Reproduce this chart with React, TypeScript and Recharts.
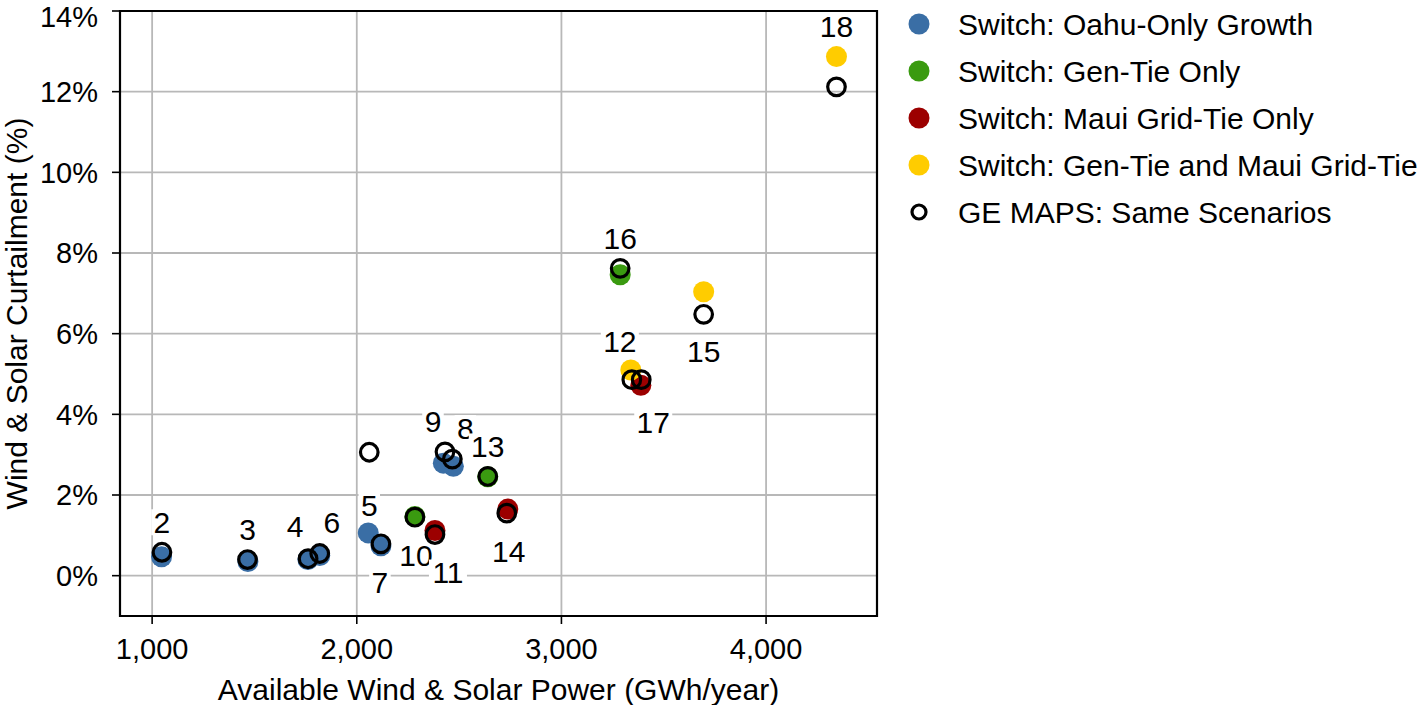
import { ScatterChart, Scatter, XAxis, YAxis, CartesianGrid, ReferenceArea } from 'recharts';

// scenario numbers, available wind & solar (GWh/yr), curtailment (%)
const oahuIds = [2, 3, 4, 5, 6, 7, 8, 9];
const oahuX = [1046, 1468, 1761, 2056, 1819, 2118, 2472, 2423];
const oahuY = [0.47, 0.35, 0.4, 1.06, 0.5, 0.74, 2.71, 2.79];

const genTieIds = [10, 13, 16];
const genTieX = [2284, 2640, 3287];
const genTieY = [1.47, 2.45, 7.46];

const mauiIds = [11, 14, 17];
const mauiX = [2382, 2738, 3388];
const mauiY = [1.12, 1.65, 4.72];

const bothIds = [12, 15, 18];
const bothX = [3339, 3695, 4344];
const bothY = [5.1, 7.04, 12.87];

const geIds = [2, 3, 4, 5, 6, 7, 8, 9, 10, 11, 12, 13, 14, 15, 16, 17, 18];
const geX = [1048, 1466, 1762, 2061, 1819, 2118, 2467, 2431, 2284, 2382, 3344, 2640, 2733, 3695, 3287, 3390, 4344];
const geY = [0.58, 0.4, 0.42, 3.06, 0.55, 0.79, 2.89, 3.07, 1.45, 1.02, 4.86, 2.46, 1.55, 6.48, 7.62, 4.86, 12.12];

const xTicks = [1000, 2000, 3000, 4000];
const yTicks = [0, 2, 4, 6, 8, 10, 12, 14];

const seriesNames = [
  'Switch: Oahu-Only Growth',
  'Switch: Gen-Tie Only',
  'Switch: Maui Grid-Tie Only',
  'Switch: Gen-Tie and Maui Grid-Tie',
  'GE MAPS: Same Scenarios',
];

// label placement relative to the GE MAPS marker, in pixels
const labelOffsets: Record<number, [number, number]> = {
  2: [0, -30], 3: [0, -30], 4: [-13, -32], 5: [0, 53], 6: [12, -31], 7: [-1, 39],
  8: [13, -31], 9: [-12, -30], 10: [1, 38], 11: [13, 38], 12: [-12, -38], 13: [0, -30],
  14: [2, 38], 15: [0, 37], 16: [0, -30], 17: [12, 43], 18: [0, -60],
};

const zip = (ids: number[], xs: number[], ys: number[]) =>
  ids.map((id, i) => ({ id, x: xs[i], y: ys[i] }));

const oahu = zip(oahuIds, oahuX, oahuY);
const genTie = zip(genTieIds, genTieX, genTieY);
const maui = zip(mauiIds, mauiX, mauiY);
const both = zip(bothIds, bothX, bothY);
const ge = zip(geIds, geX, geY);

const COLORS = ['#3a6ea5', '#3a9a10', '#9c0000', '#ffcc00'];
const FONT = '"Liberation Sans", Arial, Helvetica, sans-serif';

const dot = (color: string) => (p: any) => <circle cx={p.cx} cy={p.cy} r={10.5} fill={color} />;
const ring = (p: any) => <circle cx={p.cx} cy={p.cy} r={8.8} fill="none" stroke="#000" strokeWidth={3.2} />;

function ScenarioLabel(p: any) {
  const id = p.payload.id as number;
  const [dx, dy] = labelOffsets[id] || [0, -30];
  const txt = String(id);
  const w = txt.length * 16.5 + 5;
  const x = p.cx + dx;
  const y = p.cy + dy;
  return (
    <g>
      <rect x={x - w / 2} y={y - 13} width={w} height={26} fill="#fff" />
      <text x={x} y={y + 10.5} textAnchor="middle" fontSize={30} fontFamily={FONT} fill="#000">
        {txt}
      </text>
    </g>
  );
}

function Legend() {
  return (
    <svg width={513} height={240} style={{ position: 'absolute', left: 905, top: 0 }}>
      {seriesNames.map((name, i) => {
        const cy = 24 + 47 * i;
        return (
          <g key={name}>
            {i < 4 ? (
              <circle cx={14} cy={cy} r={10.5} fill={COLORS[i]} />
            ) : (
              <circle cx={14} cy={cy} r={7} fill="none" stroke="#000" strokeWidth={3.2} />
            )}
            <text x={53} y={cy + 10.5} fontSize={30} fontFamily={FONT} fill="#000">
              {name}
            </text>
          </g>
        );
      })}
    </svg>
  );
}

export default function App() {
  return (
    <div style={{ position: 'absolute', left: 0, top: 0, width: 1418, height: 705, background: '#fff' }}>
      <ScatterChart width={1418} height={705} margin={{ top: 11, right: 541, bottom: 0, left: 0 }}>
        <CartesianGrid stroke="#b8b8b8" strokeWidth={1.8} />
        <XAxis
          type="number"
          dataKey="x"
          domain={[843, 4542]}
          allowDataOverflow
          ticks={xTicks}
          tickFormatter={(v: number) => v.toLocaleString('en-US')}
          height={89}
          axisLine={false}
          tickLine={{ stroke: '#000', strokeWidth: 1.6 }}
          tickSize={8}
          tickMargin={14}
          tick={{ fill: '#000', fontSize: 29, fontFamily: FONT }}
          label={{
            content: (props: any) => {
              const vb = props.viewBox;
              return (
                <text x={vb.x + vb.width / 2} y={700} textAnchor="middle" fontSize={30} fontFamily={FONT} fill="#000">
                  Available Wind &amp; Solar Power (GWh/year)
                </text>
              );
            },
          }}
        />
        <YAxis
          type="number"
          dataKey="y"
          domain={[-1, 14]}
          allowDataOverflow
          ticks={yTicks}
          tickFormatter={(v: number) => `${v}%`}
          width={120}
          axisLine={false}
          tickLine={{ stroke: '#000', strokeWidth: 1.6 }}
          tickSize={8}
          tickMargin={14}
          tick={{ fill: '#000', fontSize: 29, fontFamily: FONT }}
          label={{
            content: (props: any) => {
              const vb = props.viewBox;
              const cy = vb.y + vb.height / 2;
              return (
                <text
                  x={27}
                  y={cy}
                  transform={`rotate(-90 27 ${cy})`}
                  textAnchor="middle"
                  fontSize={30}
                  fontFamily={FONT}
                  fill="#000"
                >
                  Wind &amp; Solar Curtailment (%)
                </text>
              );
            },
          }}
        />
        <ReferenceArea x1={843} x2={4542} y1={-1} y2={14} fill="none" stroke="#000" strokeWidth={2.2} fillOpacity={0} />
        <Scatter name="labels" data={ge} shape={(p: any) => <ScenarioLabel {...p} />} isAnimationActive={false} />
        <Scatter name={seriesNames[0]} data={oahu} shape={dot(COLORS[0])} isAnimationActive={false} />
        <Scatter name={seriesNames[1]} data={genTie} shape={dot(COLORS[1])} isAnimationActive={false} />
        <Scatter name={seriesNames[2]} data={maui} shape={dot(COLORS[2])} isAnimationActive={false} />
        <Scatter name={seriesNames[3]} data={both} shape={dot(COLORS[3])} isAnimationActive={false} />
        <Scatter name={seriesNames[4]} data={ge} shape={ring} isAnimationActive={false} />
      </ScatterChart>
      <Legend />
    </div>
  );
}
